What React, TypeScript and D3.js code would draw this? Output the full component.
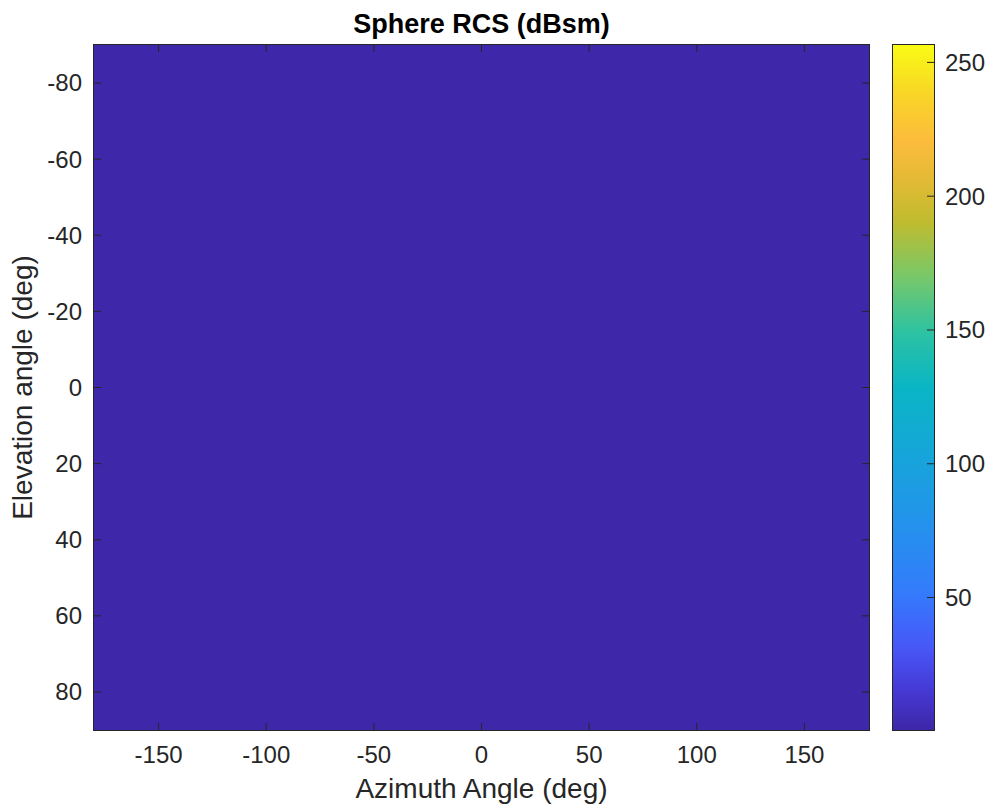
import React from "react";
import * as d3 from "d3";

// ---- data ----
const azimuthDeg = [-180, -135, -90, -45, 0, 45, 90, 135, 180];
const elevationDeg = [-90, -45, 0, 45, 90];
// colormap index of RCS (dBsm) per elevation row / azimuth column
const rcsIndex = [
  [1, 1, 1, 1, 1, 1, 1, 1, 1],
  [1, 1, 1, 1, 1, 1, 1, 1, 1],
  [1, 1, 1, 1, 1, 1, 1, 1, 1],
  [1, 1, 1, 1, 1, 1, 1, 1, 1],
  [1, 1, 1, 1, 1, 1, 1, 1, 1],
];
const xTicks = [-150, -100, -50, 0, 50, 100, 150];
const yTicks = [-80, -60, -40, -20, 0, 20, 40, 60, 80];
const cbTicks = [50, 100, 150, 200, 250];
const cbDomain = [0.5, 256.5];
const titleText = "Sphere RCS (dBsm)";
const xLabel = "Azimuth Angle (deg)";
const yLabel = "Elevation angle (deg)";

// parula-like anchor colours
const parulaStops: [number, string][] = [
  [0.0, "rgb(62,38,168)"],
  [0.06, "rgb(70,58,214)"],
  [0.12, "rgb(71,87,246)"],
  [0.2, "rgb(52,123,252)"],
  [0.3, "rgb(36,146,236)"],
  [0.4, "rgb(22,165,218)"],
  [0.5, "rgb(10,181,196)"],
  [0.58, "rgb(44,194,163)"],
  [0.66, "rgb(118,200,106)"],
  [0.74, "rgb(190,188,48)"],
  [0.8, "rgb(226,186,52)"],
  [0.86, "rgb(252,188,60)"],
  [0.93, "rgb(248,214,38)"],
  [1.0, "rgb(249,251,21)"],
];

const W = 990;
const H = 809;
const plot = { left: 94, right: 869, top: 45, bottom: 730 };
const cb = { left: 893, right: 934 };
const FONT = "'Liberation Sans', Arial, Helvetica, sans-serif";
const AX = "#262626";
const TICK_FS = 24;
const LABEL_FS = 28;
const TITLE_FS = 27;

export default function App() {
  const x = d3.scaleLinear().domain([-180, 180]).range([plot.left, plot.right]);
  const y = d3.scaleLinear().domain([-90, 90]).range([plot.top, plot.bottom]);
  const cy = d3.scaleLinear().domain(cbDomain).range([plot.bottom, plot.top]);
  const parula = d3
    .scaleLinear<string>()
    .domain(parulaStops.map((s) => s[0]))
    .range(parulaStops.map((s) => s[1]))
    .interpolate(d3.interpolateRgb);
  const colorOf = (v: number) => parula((v - cbDomain[0]) / (cbDomain[1] - cbDomain[0]));

  const azStep = azimuthDeg[1] - azimuthDeg[0];
  const elStep = elevationDeg[1] - elevationDeg[0];
  const tickLen = 7;

  return (
    <svg
      width={W}
      height={H}
      style={{ position: "absolute", left: 0, top: 0, background: "#fff" }}
      fontFamily={FONT}
    >
      <defs>
        <clipPath id="plotClip">
          <rect x={plot.left} y={plot.top} width={plot.right - plot.left} height={plot.bottom - plot.top} />
        </clipPath>
        <linearGradient id="cbGrad" x1="0" y1="1" x2="0" y2="0">
          {parulaStops.map((s, i) => (
            <stop key={i} offset={s[0]} stopColor={s[1]} />
          ))}
        </linearGradient>
      </defs>

      {/* image cells */}
      <g clipPath="url(#plotClip)" shapeRendering="crispEdges">
        {rcsIndex.map((row, ri) =>
          row.map((v, ci) => {
            const x0 = x(azimuthDeg[ci] - azStep / 2);
            const x1 = x(azimuthDeg[ci] + azStep / 2);
            const y0 = y(elevationDeg[ri] - elStep / 2);
            const y1 = y(elevationDeg[ri] + elStep / 2);
            return (
              <rect
                key={`${ri}-${ci}`}
                x={x0}
                y={y0}
                width={x1 - x0 + 0.5}
                height={y1 - y0 + 0.5}
                fill={colorOf(v)}
              />
            );
          })
        )}
      </g>

      {/* axes box */}
      <rect
        x={plot.left - 0.5}
        y={plot.top - 0.5}
        width={plot.right - plot.left + 1}
        height={plot.bottom - plot.top + 1}
        fill="none"
        stroke={AX}
        strokeWidth={1}
      />

      {/* x ticks */}
      {xTicks.map((t) => (
        <g key={`x${t}`}>
          <line x1={x(t)} x2={x(t)} y1={plot.bottom} y2={plot.bottom - tickLen} stroke={AX} />
          <line x1={x(t)} x2={x(t)} y1={plot.top} y2={plot.top + tickLen} stroke={AX} />
          <text x={x(t)} y={plot.bottom + 33} textAnchor="middle" fontSize={TICK_FS} fill={AX}>
            {t}
          </text>
        </g>
      ))}

      {/* y ticks */}
      {yTicks.map((t) => (
        <g key={`y${t}`}>
          <line x1={plot.left} x2={plot.left + tickLen} y1={y(t)} y2={y(t)} stroke={AX} />
          <line x1={plot.right} x2={plot.right - tickLen} y1={y(t)} y2={y(t)} stroke={AX} />
          <text x={plot.left - 12} y={y(t)} dy="0.35em" textAnchor="end" fontSize={TICK_FS} fill={AX}>
            {t}
          </text>
        </g>
      ))}

      {/* colorbar */}
      <rect
        x={cb.left}
        y={plot.top}
        width={cb.right - cb.left}
        height={plot.bottom - plot.top}
        fill="url(#cbGrad)"
      />
      <rect
        x={cb.left - 0.5}
        y={plot.top - 0.5}
        width={cb.right - cb.left + 1}
        height={plot.bottom - plot.top + 1}
        fill="none"
        stroke={AX}
        strokeWidth={1}
      />
      {cbTicks.map((t) => (
        <g key={`c${t}`}>
          <line x1={cb.right} x2={cb.right - tickLen} y1={cy(t)} y2={cy(t)} stroke={AX} />
          <text x={cb.right + 11} y={cy(t)} dy="0.35em" textAnchor="start" fontSize={TICK_FS} fill={AX}>
            {t}
          </text>
        </g>
      ))}

      {/* labels */}
      <text
        x={(plot.left + plot.right) / 2}
        y={33}
        textAnchor="middle"
        fontSize={TITLE_FS}
        fontWeight="bold"
        fill="#000"
      >
        {titleText}
      </text>
      <text x={(plot.left + plot.right) / 2} y={798} textAnchor="middle" fontSize={LABEL_FS} fill={AX}>
        {xLabel}
      </text>
      <text
        transform={`translate(32,${(plot.top + plot.bottom) / 2}) rotate(-90)`}
        textAnchor="middle"
        fontSize={LABEL_FS}
        fill={AX}
      >
        {yLabel}
      </text>
    </svg>
  );
}
